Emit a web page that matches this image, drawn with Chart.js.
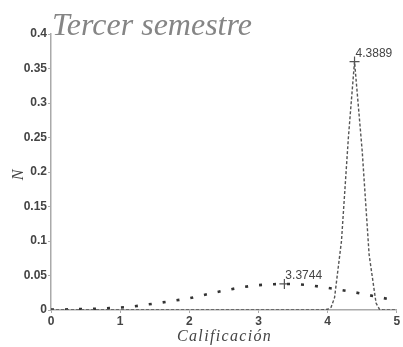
<!DOCTYPE html>
<html>
<head>
<meta charset="utf-8">
<script src="https://cdn.jsdelivr.net/npm/chart.js@4/dist/chart.umd.min.js"></script>
<style>
  html, body { margin: 0; padding: 0; background: #fff; }
  #wrap { width: 403px; height: 347px; position: relative; }
</style>
</head>
<body>
<div id="wrap"><canvas id="c" width="403" height="347"></canvas></div>
<script>
// Wide distribution (grade vs. density)
const wideX = [0, 0.2, 0.4, 0.6, 0.8, 1.0, 1.2, 1.4, 1.6, 1.8, 2.0, 2.2, 2.4, 2.6, 2.8, 3.0, 3.2, 3.3744, 3.6, 3.8, 4.0, 4.2, 4.4, 4.6, 4.8, 5.0];
const wideY = [0.0005, 0.0008, 0.0012, 0.0017, 0.0025, 0.0035, 0.0053, 0.008, 0.0108, 0.0138, 0.017, 0.0215, 0.026, 0.030, 0.0335, 0.036, 0.0372, 0.0378, 0.037, 0.035, 0.032, 0.029, 0.0255, 0.0215, 0.0175, 0.0135];

// Narrow distribution
const narrowX = [0, 3.9, 4.0, 4.05, 4.1, 4.2, 4.3, 4.3889, 4.5, 4.6, 4.7, 4.75, 4.8, 5.0];
const narrowY = [0, 0, 0.001, 0.004, 0.018, 0.1, 0.25, 0.36, 0.23, 0.08, 0.01, 0.001, 0, 0];

// Peak markers and their labels
const peakX = [3.3744, 4.3889];
const peakY = [0.0378, 0.36];
const peakLabels = ['3.3744', '4.3889'];

const xTicks = [0, 1, 2, 3, 4, 5];
const yTickLabels = ['0', '0.05', '0.1', '0.15', '0.2', '0.25', '0.3', '0.35', '0.4'];
const titleText = 'Tercer semestre';
const xTitle = 'Calificación';
const yTitle = 'N';

const toPts = (xs, ys) => xs.map((x, i) => ({ x: x, y: ys[i] }));
const tickFont = { family: '"Liberation Sans", Arial, sans-serif', size: 12, weight: 'bold' };

const textPlugin = {
  id: 'texts',
  afterDraw(chart) {
    const ctx = chart.ctx;
    const xs = chart.scales.x, ys = chart.scales.y;
    ctx.save();
    // title
    ctx.fillStyle = '#858585';
    ctx.font = 'italic 32px "Liberation Serif", serif';
    ctx.textAlign = 'left';
    ctx.textBaseline = 'alphabetic';
    ctx.fillText(titleText, 52, 35);
    // peak labels
    ctx.fillStyle = '#444';
    ctx.font = '12px "Liberation Sans", Arial, sans-serif';
    ctx.textBaseline = 'bottom';
    peakX.forEach((px, i) => {
      ctx.fillText(peakLabels[i], xs.getPixelForValue(px) + 1, ys.getPixelForValue(peakY[i]) - 2);
    });
    // x axis title
    ctx.fillStyle = '#444';
    ctx.font = 'italic 16px "Liberation Serif", serif';
    ctx.textAlign = 'center';
    ctx.textBaseline = 'middle';
    ctx.fillText(xTitle.split('').join('\u200A'), (xs.left + xs.right) / 2, 337);
    // y axis title
    ctx.translate(19, 175);
    ctx.rotate(-Math.PI / 2);
    ctx.font = 'italic 16px "Liberation Serif", serif';
    ctx.fillText(yTitle, 0, 0);
    ctx.restore();
  }
};

new Chart(document.getElementById('c'), {
  type: 'scatter',
  data: {
    datasets: [
      {
        data: toPts(narrowX, narrowY),
        showLine: true,
        borderColor: '#555',
        borderWidth: 1.4,
        borderDash: [3, 2],
        pointRadius: 0,
        tension: 0
      },
      {
        data: toPts(wideX, wideY),
        showLine: true,
        borderColor: '#333',
        borderWidth: 2.6,
        borderDash: [3, 11],
        pointRadius: 0,
        cubicInterpolationMode: 'monotone'
      },
      {
        data: toPts(peakX, peakY),
        showLine: false,
        pointStyle: 'cross',
        pointRadius: 5,
        borderColor: '#555',
        borderWidth: 1.2
      }
    ]
  },
  options: {
    responsive: false,
    animation: false,
    plugins: { legend: { display: false }, tooltip: { enabled: false } },
    layout: { padding: { top: 34, right: 3, left: 0, bottom: 0 } },
    scales: {
      x: {
        type: 'linear',
        min: 0, max: 5,
        afterFit(s) { s.height = 37; },
        afterBuildTicks(s) { s.ticks = xTicks.map(v => ({ value: v })); },
        border: { color: '#aaa', width: 1.5 },
        grid: { drawOnChartArea: false, tickLength: 3, color: '#aaa' },
        ticks: { color: '#444', font: tickFont, padding: 1, maxRotation: 0 }
      },
      y: {
        min: 0, max: 0.4,
        afterFit(s) { s.width = 51; },
        border: { color: '#aaa', width: 1.5 },
        grid: { drawOnChartArea: false, tickLength: 3, color: '#aaa' },
        ticks: {
          stepSize: 0.05, color: '#444', font: tickFont, padding: 1,
          callback: (v, i) => yTickLabels[i]
        }
      }
    }
  },
  plugins: [textPlugin]
});
</script>
</body>
</html>
